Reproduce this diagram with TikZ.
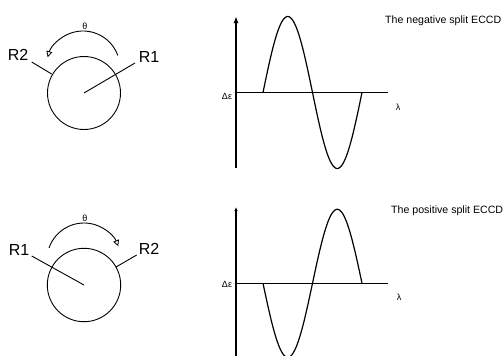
\documentclass[tikz,border=0pt]{standalone}
\usepackage{fontspec}
\setmainfont{Liberation Sans}
\usetikzlibrary{arrows.meta,calc}
\begin{document}
\begin{tikzpicture}[x=1pt,y=-1pt,
  ring/.style={line width=0.9pt},
  bond/.style={line width=0.9pt},
  rot/.style={line width=0.9pt,-{Triangle[open,length=6pt,width=6pt,line width=0.8pt]}},
  axis/.style={line width=1.4pt},
  curve/.style={line width=1.2pt},
  big/.style={font=\fontsize{16}{18}\selectfont,inner sep=0pt},
  small/.style={font=\fontsize{9}{10}\selectfont,inner sep=0pt},
  title/.style={font=\fontsize{10.6}{12}\selectfont,inner sep=0pt,anchor=base west}]
\useasboundingbox (0,0) rectangle (504,356);
% ---- top Newman-like projection
\coordinate (c1) at (84,93);
\draw[ring] (c1) circle[radius=36.5];
\coordinate (r1a) at (135,63);
\coordinate (r2a) at (51.7,74);
\coordinate (r2b) at (31.7,62);
\draw[bond] (c1) -- (r1a);
\draw[bond] (r2a) -- (r2b);
\node[big] (R2a) at (18,55) {R2};
\node[big] (R1a) at (149,57) {R1};
\coordinate (arc1c) at (83,68);
\draw[rot] ($(arc1c)+(-20:37)$) arc[start angle=-20,end angle=-163,radius=37];
\node[small] (th1) at (85,26) {θ};
% ---- bottom
\coordinate (c2) at (84,285);
\draw[ring] (c2) circle[radius=36.7];
\coordinate (r1b) at (31.7,256);
\coordinate (r2c) at (116,267);
\coordinate (r2d) at (136.7,255);
\draw[bond] (c2) -- (r1b);
\draw[bond] (r2c) -- (r2d);
\node[big] (R1b) at (19,250) {R1};
\node[big] (R2b) at (149,249) {R2};
\coordinate (arc2c) at (84,260);
\draw[rot] ($(arc2c)+(-161:37)$) arc[start angle=-161,end angle=-22,radius=37];
\node[small] (th2) at (85,218) {θ};
% ---- top spectrum
\coordinate (ya0) at (236,168);
\coordinate (ya1) at (236,16);
\coordinate (xa0) at (236,92.5);
\coordinate (xa1) at (388,92.5);
\draw[axis,-{Latex[length=7pt,width=5pt]}] (ya0) -- (ya1);
\draw[axis] (xa0) -- (xa1);
\draw[curve] plot[domain=0:360,samples=91,smooth] ({263+\x/360*99},{92.5-76*sin(\x)});
\node[small] (de1) at (227,96) {Δε};
\node[small] (la1) at (398,107) {λ};
\node[title] (t1) at (385,23.3) {The negative split ECCD};
% ---- bottom spectrum
\coordinate (yb0) at (236,358);
\coordinate (yb1) at (236,207);
\coordinate (xb0) at (236,283.3);
\coordinate (xb1) at (388,283.3);
\draw[axis,-{Latex[length=4pt,width=3.5pt]}] (yb0) -- (yb1);
\draw[axis] (xb0) -- (xb1);
\draw[curve] plot[domain=0:360,samples=91,smooth] ({263+\x/360*99},{283.3+74*sin(\x)});
\node[small] (de2) at (227,284) {Δε};
\node[small] (la2) at (399,297) {λ};
\node[title] (t2) at (391,213.5) {The positive split ECCD};
\end{tikzpicture}
\end{document}
